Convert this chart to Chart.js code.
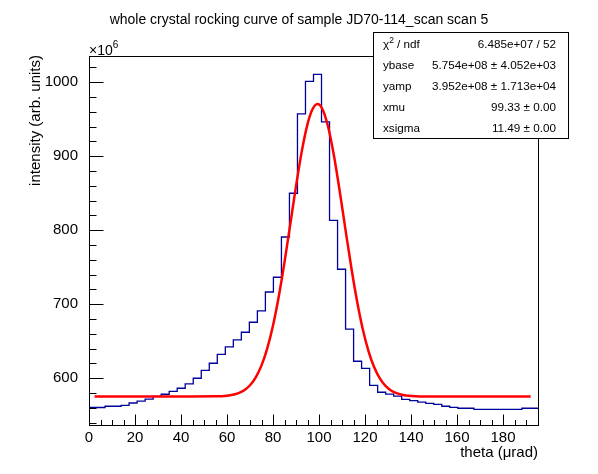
<!DOCTYPE html>
<html>
<head>
<meta charset="utf-8">
<script src="https://cdn.jsdelivr.net/npm/chart.js@4.4.1/dist/chart.umd.min.js"></script>
<style>
  html, body { margin: 0; padding: 0; background: #fff; }
  #wrap { width: 598px; height: 474px; }
</style>
</head>
<body>
<div id="wrap"><canvas id="c" width="598" height="474"></canvas></div>
<script>
// histogram: 56 bins between 0 and 195.2 urad, counts in units of 1e6
const binLow = 0;
const binHigh = 195.2;
const counts = [
  560.5, 560.5, 560.5, 562.2, 562.2, 563.5, 566.6, 569.2, 571.7, 575.5,
  578.4, 582.4, 586.5, 592.3, 600.0, 610.8, 620.3, 632.4, 642.3, 651.8,
  662.2, 675.7, 691.0, 716.6, 736.5, 790.9, 850.0, 957.2, 1001.3, 1010.8,
  946.4, 813.5, 747.3, 666.4, 623.0, 613.5, 590.5, 581.1, 578.7, 576.0,
  571.6, 569.8, 567.8, 566.2, 564.8, 562.2, 560.8, 559.5, 559.5, 558.1,
  558.1, 558.1, 558.1, 558.1, 558.1, 559.5
];

// gaussian fit curve
const fitX = [2.4, 20, 40, 55, 60, 62.5, 65, 67.5, 70, 72.5, 75, 77.5, 80, 82.5, 85,
  87.5, 90, 92.5, 95, 97, 99.33, 101.5, 104, 106.5, 109, 111.5, 114, 116.5, 119,
  121.5, 124, 126.5, 129, 131.5, 134, 136.5, 139, 142, 146, 160, 180, 192];
const fitY = [575.4, 575.4, 575.4, 575.6, 576.5, 577.7, 580.0, 583.9, 590.6, 601.3,
  617.4, 640.4, 671.4, 710.6, 757.0, 808.0, 859.6, 906.6, 943.5, 962.6, 970.6,
  963.6, 939.3, 900.7, 852.7, 800.9, 750.3, 704.8, 666.7, 636.8, 614.8, 599.5,
  589.5, 583.2, 579.6, 577.5, 576.4, 575.8, 575.5, 575.4, 575.4, 575.4];

const xTicks = [0, 20, 40, 60, 80, 100, 120, 140, 160, 180];
const yTicks = [600, 700, 800, 900, 1000];

const statNames = ['\u03c7\u00b2 / ndf', 'ybase', 'yamp', 'xmu', 'xsigma'];
const statValues = ['6.485e+07 / 52', '5.754e+08 \u00b1 4.052e+03',
  '3.952e+08 \u00b1 1.713e+04', '99.33 \u00b1 0.00', '11.49 \u00b1 0.00'];

const FONT = '"Liberation Sans", Arial, Helvetica, sans-serif';

const binWidth = (binHigh - binLow) / counts.length;
const histPoints = counts.map((v, i) => ({ x: binLow + i * binWidth, y: v }));
histPoints.push({ x: binHigh, y: counts[counts.length - 1] });
const fitPoints = fitX.map((x, i) => ({ x: x, y: fitY[i] }));

// ROOT look: frame, inner ticks, titles and the stats box
const rootFrame = {
  id: 'rootFrame',
  afterDraw(chart) {
    const { ctx, chartArea: a, scales: { x, y } } = chart;
    const L = Math.round(a.left) + 0.5, R = Math.round(a.right) + 0.5;
    const T = Math.round(a.top) + 0.5, B = Math.round(a.bottom) - 0.5;
    ctx.save();
    ctx.strokeStyle = '#000';
    ctx.lineWidth = 1;
    ctx.strokeRect(L, T, R - L, B - T);

    ctx.beginPath();
    for (let v = 0; v <= binHigh; v += 5) {
      const px = Math.round(x.getPixelForValue(v)) + 0.5;
      const len = v % 20 === 0 ? 11 : 5.5;
      ctx.moveTo(px, B);
      ctx.lineTo(px, B - len);
    }
    for (let v = 540; v <= y.max; v += 20) {
      const py = Math.round(y.getPixelForValue(v)) + 0.5;
      const len = v % 100 === 0 ? 14 : 7;
      ctx.moveTo(L, py);
      ctx.lineTo(L + len, py);
    }
    ctx.stroke();

    ctx.fillStyle = '#000';
    // title
    ctx.font = '14px ' + FONT;
    ctx.textAlign = 'center';
    ctx.textBaseline = 'alphabetic';
    ctx.fillText('whole crystal rocking curve of sample JD70-114_scan scan 5', 299, 24);

    // exponent
    ctx.textAlign = 'left';
    ctx.font = '14px ' + FONT;
    ctx.fillText('\u00d710', 89, 55);
    const w10 = ctx.measureText('\u00d710').width;
    ctx.font = '10px ' + FONT;
    ctx.fillText('6', 89 + w10, 48);

    // axis titles
    ctx.font = '15px ' + FONT;
    ctx.textAlign = 'right';
    ctx.fillText('theta (\u03bcrad)', 538, 457);
    ctx.save();
    ctx.translate(35.5, 55);
    ctx.rotate(-Math.PI / 2);
    ctx.textBaseline = 'middle';
    ctx.fillText('intensity (arb. units)', 0, 0);
    ctx.restore();

    // stats box
    const bx = 373.5, by = 32.5, bw = 195, bh = 106;
    ctx.fillStyle = '#fff';
    ctx.fillRect(bx, by, bw, bh);
    ctx.strokeRect(bx, by, bw, bh);
    ctx.fillStyle = '#000';
    const rowH = bh / statNames.length;
    statNames.forEach((name, i) => {
      const base = by + rowH * (i + 0.5) + 4.5;
      ctx.font = '11.7px ' + FONT;
      ctx.textAlign = 'left';
      if (i === 0) {
        ctx.fillText('\u03c7', 383, base);
        const wc = ctx.measureText('\u03c7').width;
        ctx.font = '8.5px ' + FONT;
        ctx.fillText('2', 383 + wc, base - 5);
        const w2 = ctx.measureText('2').width;
        ctx.font = '11.7px ' + FONT;
        ctx.fillText(' / ndf', 383 + wc + w2, base);
      } else {
        ctx.fillText(name, 383, base);
      }
      ctx.textAlign = 'right';
      ctx.fillText(statValues[i], 556, base);
    });
    ctx.restore();
  }
};

new Chart(document.getElementById('c'), {
  type: 'line',
  data: {
    datasets: [
      {
        label: 'fit',
        data: fitPoints,
        borderColor: '#ff0000',
        borderWidth: 2.5,
        pointRadius: 0,
        fill: false,
        cubicInterpolationMode: 'monotone'
      },
      {
        label: 'histogram',
        data: histPoints,
        borderColor: '#00009c',
        borderWidth: 1.3,
        pointRadius: 0,
        fill: false,
        stepped: 'after'
      }
    ]
  },
  options: {
    responsive: false,
    animation: false,
    layout: { padding: { left: 0, top: 56, right: 60, bottom: 0 } },
    plugins: {
      legend: { display: false },
      tooltip: { enabled: false },
      title: { display: false }
    },
    scales: {
      x: {
        type: 'linear',
        min: binLow,
        max: binHigh,
        grid: { display: false },
        border: { display: false },
        ticks: { color: '#000', font: { family: FONT, size: 15 }, padding: -5, maxRotation: 0,
          callback: v => String(v) },
        afterBuildTicks: s => { s.ticks = xTicks.map(v => ({ value: v })); },
        afterFit: s => { s.height = 48; }
      },
      y: {
        type: 'linear',
        min: 535.5,
        max: 1035.5,
        grid: { display: false },
        border: { display: false },
        ticks: { color: '#000', font: { family: FONT, size: 15 }, padding: 3,
          callback: v => String(v) },
        afterBuildTicks: s => { s.ticks = yTicks.map(v => ({ value: v })); },
        afterFit: s => { s.width = 89; }
      }
    }
  },
  plugins: [rootFrame]
});
</script>
</body>
</html>
